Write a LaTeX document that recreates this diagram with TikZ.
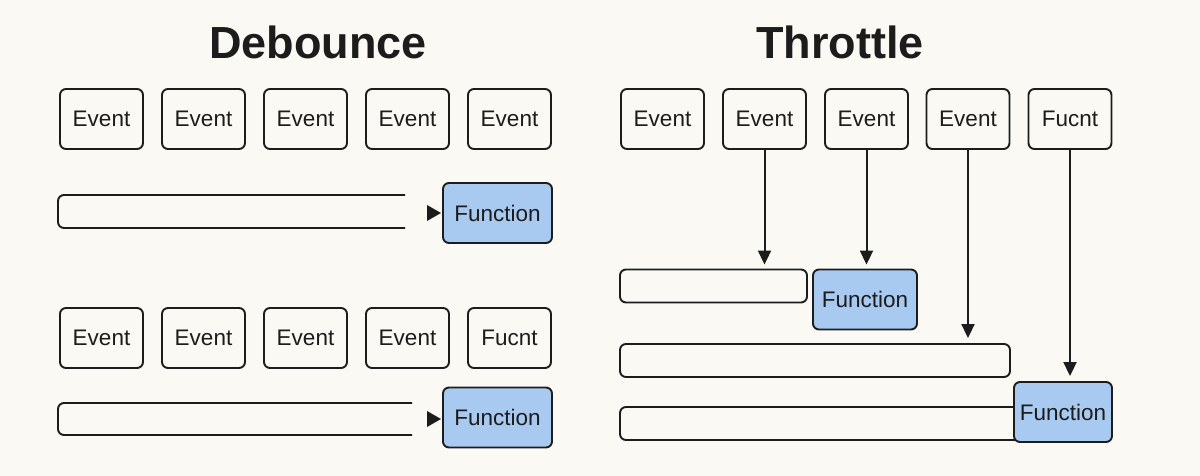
\documentclass[tikz,border=0pt]{standalone}
\usepackage{fontspec}
\setmainfont{Liberation Sans}
\usetikzlibrary{arrows.meta}
\definecolor{bg}{HTML}{FAF9F3}
\definecolor{ink}{HTML}{1C1C1C}
\definecolor{fblue}{HTML}{A8CAF0}
\tikzset{
  box/.style={draw=ink, line width=1.9pt, rounded corners=6pt, fill=bg, inner sep=0pt, text=ink, font=\fontsize{22.5}{24}\selectfont},
  evbox/.style={box, minimum width=83pt, minimum height=60pt},
  fnbox/.style={box, fill=fblue, minimum height=60pt},
  barbox/.style={box, minimum height=33pt},
  arr/.style={draw=ink, line width=2pt, -{Triangle[length=14pt,width=13pt]}},
  ttl/.style={text=ink, font=\fontsize{45}{50}\selectfont\bfseries}
}
\begin{document}
\begin{tikzpicture}[x=1pt,y=-1pt]
\useasboundingbox[fill=bg] (0,0) rectangle (1200,476);
% titles
\node[ttl] (tdeb) at (318,42) {Debounce};
\node[ttl] (tthr) at (840,42) {Throttle};
% debounce top row
\node[evbox] (da1) at (101.5,119) {Event};
\node[evbox] (da2) at (203.5,119) {Event};
\node[evbox] (da3) at (305.5,119) {Event};
\node[evbox] (da4) at (407.5,119) {Event};
\node[evbox] (da5) at (509.5,119) {Event};
\draw[ink, line width=1.9pt, rounded corners=6pt] (405,195) -- (58,195) -- (58,228) -- (405,228);
\node[fnbox, minimum width=109pt] (dfa) at (497.5,213) {Function};
\fill[ink] (427,205) -- (441,213) -- (427,221) -- cycle;
% debounce bottom row
\node[evbox] (db1) at (101.5,338) {Event};
\node[evbox] (db2) at (203.5,338) {Event};
\node[evbox] (db3) at (305.5,338) {Event};
\node[evbox] (db4) at (407.5,338) {Event};
\node[evbox] (db5) at (509.5,338) {Fucnt};
\draw[ink, line width=1.9pt, rounded corners=6pt] (412,403) -- (58,403) -- (58,435) -- (412,435);
\node[fnbox, minimum width=109pt] (dfb) at (497.5,417.5) {Function};
\fill[ink] (427,411) -- (441,419) -- (427,427) -- cycle;
% throttle
\node[evbox] (t1) at (662.5,119) {Event};
\node[evbox] (t2) at (764.5,119) {Event};
\node[evbox] (t3) at (866.5,119) {Event};
\node[evbox] (t4) at (968,119) {Event};
\node[evbox] (t5) at (1070,119) {Fucnt};
\node[barbox, minimum width=187pt] (tb1) at (713.5,286) {};
\node[fnbox, minimum width=104pt] (tf1) at (865,299.5) {Function};
\node[barbox, minimum width=390pt] (tb2) at (815,360.5) {};
\node[barbox, minimum width=410pt] (tb3) at (825,423.5) {};
\node[fnbox, minimum width=98pt] (tf2) at (1063,412) {Function};
\draw[arr, shorten >=4pt] (t2.south) -- (t2.south |- tb1.north);
\draw[arr, shorten >=4pt] (t3.south) -- (t3.south |- tf1.north);
\draw[arr, shorten >=5pt] (t4.south) -- (t4.south |- tb2.north);
\draw[arr, shorten >=5pt] (t5.south) -- (t5.south |- tf2.north);
\end{tikzpicture}
\end{document}
